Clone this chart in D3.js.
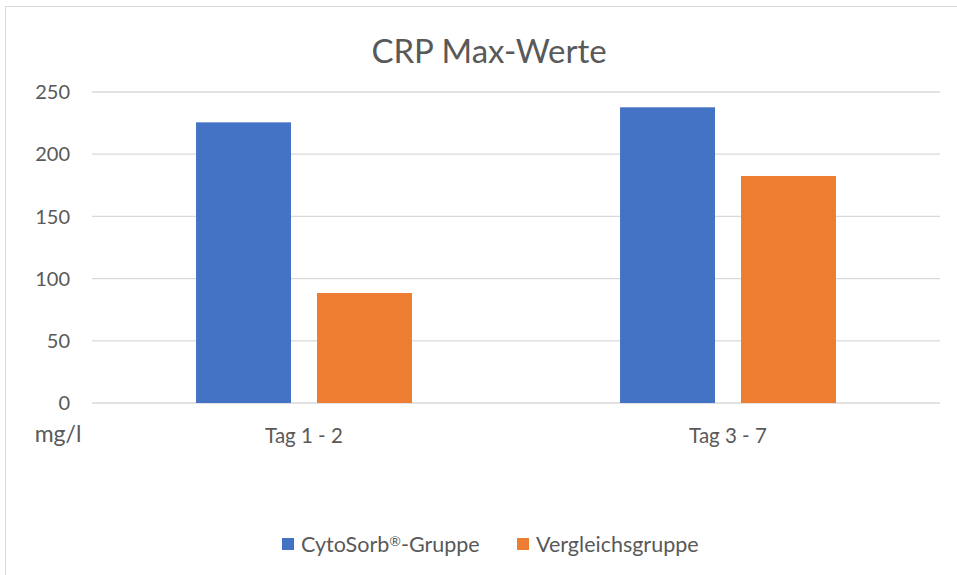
<!DOCTYPE html>
<html>
<head>
<meta charset="utf-8">
<script src="https://cdn.jsdelivr.net/npm/d3@7"></script>
<style>
  body { margin: 0; background: #fff; }
  svg { font-family: Lato, "Open Sans", sans-serif; }
</style>
</head>
<body>
<svg id="chart"></svg>
<script>
const categories = ["Tag 1 - 2", "Tag 3 - 7"];
const seriesNames = ["CytoSorb®-Gruppe", "Vergleichsgruppe"];
const cytoSorb = [225.6, 237.7];
const vergleich = [88.4, 182.5];
const yTicks = [0, 50, 100, 150, 200, 250];
const colors = ["#4472C4", "#ED7D31"];

const W = 957, H = 575;
const plot = { left: 92, right: 940, top: 92, bottom: 403 };

const data = categories.map((c, i) => ({
    category: c,
    values: [cytoSorb[i], vergleich[i]]
}));

const svg = d3.select("#chart").attr("width", W).attr("height", H);

// chart border
svg.append("rect")
    .attr("x", 5.5).attr("y", 6.5)
    .attr("width", W + 10).attr("height", H + 10)
    .attr("fill", "white")
    .attr("stroke", "#d9d9d9");

const x0 = d3.scaleBand().domain(categories).range([plot.left, plot.right]);
const x1 = d3.scaleBand().domain(seriesNames)
    .range([0, x0.bandwidth()])
    .paddingInner(0.215).paddingOuter(0.86);
const y = d3.scaleLinear().domain([0, 250]).range([plot.bottom, plot.top]);

// gridlines
svg.append("g")
    .selectAll("line")
    .data(yTicks)
    .join("line")
    .attr("x1", plot.left).attr("x2", plot.right)
    .attr("y1", d => y(d)).attr("y2", d => y(d))
    .attr("stroke", "#d9d9d9")
    .attr("stroke-width", 1.3);

// y tick labels
svg.append("g")
    .selectAll("text")
    .data(yTicks)
    .join("text")
    .attr("x", 70)
    .attr("y", d => y(d))
    .attr("dy", "0.36em")
    .attr("text-anchor", "end")
    .attr("fill", "#595959")
    .style("font-size", "20px")
    .text(d => d);

svg.append("text")
    .attr("x", 58).attr("y", 434)
    .attr("dy", "0.36em")
    .attr("text-anchor", "middle")
    .attr("fill", "#595959")
    .style("font-size", "23px")
    .text("mg/l");

// bars
const groups = svg.append("g")
    .selectAll("g")
    .data(data)
    .join("g")
    .attr("transform", d => `translate(${x0(d.category)},0)`);

groups.selectAll("rect")
    .data(d => d.values.map((v, i) => ({ key: seriesNames[i], value: v, idx: i })))
    .join("rect")
    .attr("x", d => x1(d.key))
    .attr("width", x1.bandwidth())
    .attr("y", d => y(d.value))
    .attr("height", d => y(0) - y(d.value))
    .attr("fill", d => colors[d.idx]);

// category labels
svg.append("g")
    .selectAll("text")
    .data(categories)
    .join("text")
    .attr("x", d => x0(d) + x0.bandwidth() / 2)
    .attr("y", 436)
    .attr("dy", "0.36em")
    .attr("text-anchor", "middle")
    .attr("fill", "#595959")
    .style("font-size", "20.5px")
    .text(d => d);

// title
svg.append("text")
    .attr("x", 489).attr("y", 51)
    .attr("dy", "0.36em")
    .attr("text-anchor", "middle")
    .attr("fill", "#595959")
    .style("font-size", "33px")
    .text("CRP Max-Werte");

// legend
const legendX = [282, 517];
const legend = svg.append("g")
    .selectAll("g")
    .data(seriesNames)
    .join("g")
    .attr("transform", (d, i) => `translate(${legendX[i]},544)`);

legend.append("rect")
    .attr("x", 0).attr("y", -6)
    .attr("width", 12).attr("height", 12)
    .attr("fill", (d, i) => colors[i]);

const legendText = legend.append("text")
    .attr("x", 19).attr("y", 0)
    .attr("dy", "0.36em")
    .attr("fill", "#595959")
    .style("font-size", "21.5px");

// "®" as a small superscript, like the original
legendText.each(function(d) {
    const t = d3.select(this);
    let raised = false;
    d.split(/(®)/).filter(s => s).forEach(part => {
        const span = t.append("tspan").text(part);
        if (part === "®") {
            span.style("font-size", "14px").attr("dy", "-6px");
            raised = true;
        } else if (raised) {
            span.attr("dy", "6px");
            raised = false;
        }
    });
});
</script>
</body>
</html>
